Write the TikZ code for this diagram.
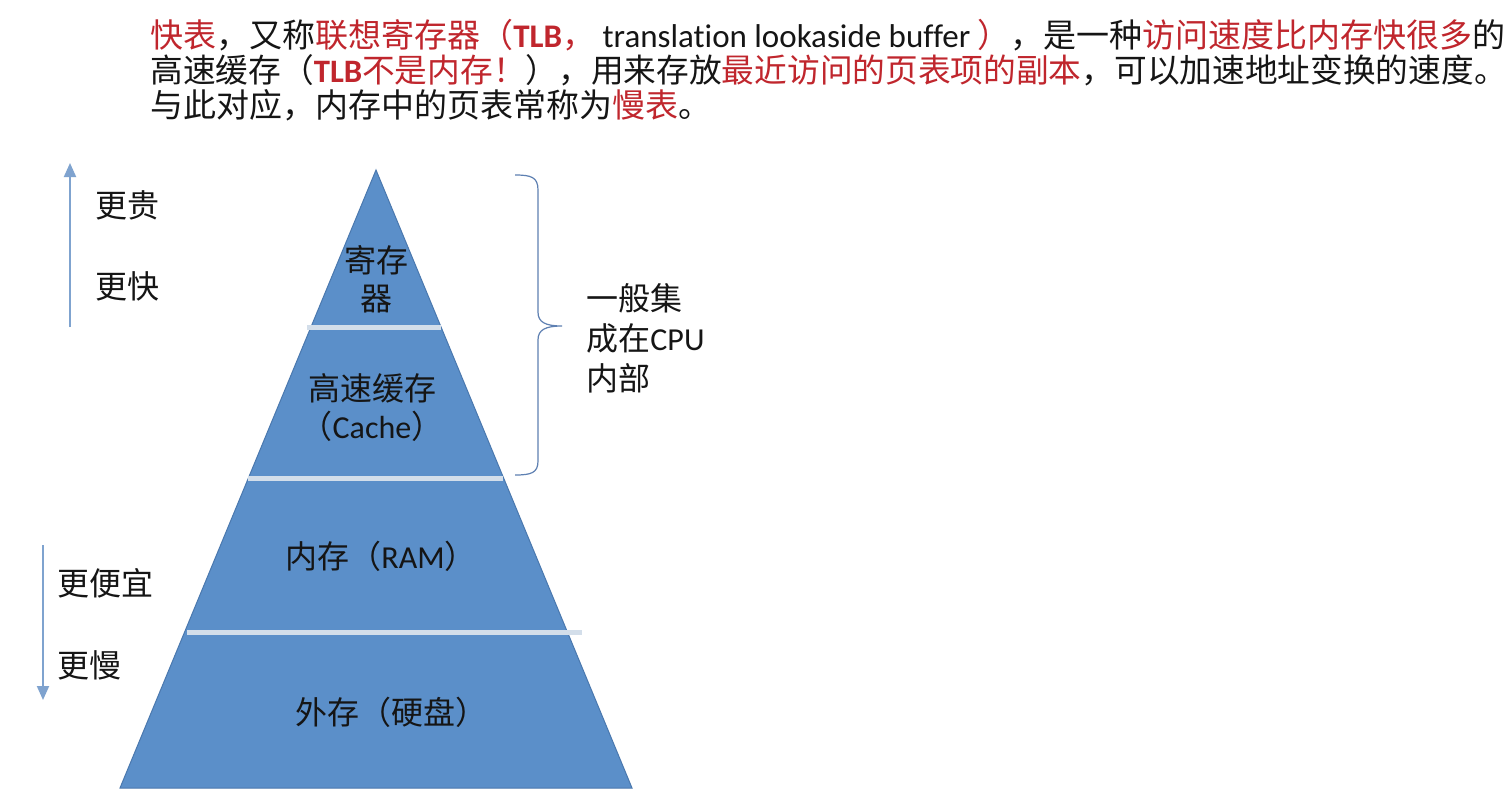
\documentclass[tikz,border=0pt]{standalone}
\usepackage{fontspec}
\setmainfont{Noto Sans CJK SC}
\newfontfamily\lat[Ligatures=NoCommon]{Carlito}
\usetikzlibrary{arrows.meta}
\definecolor{hred}{HTML}{C0262D}
\definecolor{txtblack}{HTML}{151515}
\definecolor{pyblue}{HTML}{5B8FC9}
\definecolor{pyedge}{HTML}{4A78AE}
\definecolor{sepline}{HTML}{D3DEEA}
\definecolor{arrowblue}{HTML}{7FA3CF}
\definecolor{bracecol}{HTML}{5E80B2}
\newcommand{\hlr}[1]{\textcolor{hred}{#1}}
\begin{document}
\begin{tikzpicture}[x=0.5pt,y=-0.5pt,
  toptext/.style={anchor=west,inner sep=0pt,text=txtblack,font=\fontsize{16.5}{20}\selectfont},
  pytext/.style={inner sep=0pt,text=txtblack,align=center,font=\fontsize{16}{19}\selectfont},
  sidetext/.style={anchor=west,inner sep=0pt,text=txtblack,font=\fontsize{16}{20}\selectfont},
  seprule/.style={draw=sepline,line width=2.5pt},
  dirarrow/.style={draw=arrowblue,line width=1pt,-{Triangle[width=6pt,length=7pt]}},
  bracestyle/.style={draw=bracecol,line width=0.6pt}]
\useasboundingbox (0,0) rectangle (1505,798);
\fill[white] (0,0) rectangle (1505,798);

% top text
\node[toptext] (l1) at (150,35) {\hlr{快表}，又称\hlr{联想寄存器（{\lat\bfseries TLB}，}{\lat{} translation lookaside buffer }\hlr{）}，是一种\hlr{访问速度比内存快很多}的};
\node[toptext,font=\fontsize{16.35}{20}\selectfont] (l2) at (150,70) {高速缓存（\hlr{{\lat\bfseries TLB}不是内存！}），用来存放\hlr{最近访问的页表项的副本}，可以加速地址变换的速度。};
\node[toptext] (l3) at (150,105) {与此对应，内存中的页表常称为\hlr{慢表}。};

% pyramid
\coordinate (apex) at (376,170);
\coordinate (br) at (632,788);
\coordinate (bl) at (120,788);
\filldraw[fill=pyblue,draw=pyedge,line width=0.5pt] (apex) -- (br) -- (bl) -- cycle;

\coordinate (s1a) at (307,327); \coordinate (s1b) at (441,327);
\coordinate (s2a) at (248,478); \coordinate (s2b) at (503,478);
\coordinate (s3a) at (187,632); \coordinate (s3b) at (582,632);
\draw[seprule] (s1a) -- (s1b);
\draw[seprule] (s2a) -- (s2b);
\draw[seprule] (s3a) -- (s3b);

\node[pytext] (reg) at (376,279) {寄存\\器};
\node[pytext] (cache) at (372,408) {高速缓存\\（{\lat Cache}）};
\node[pytext,anchor=west] (ram) at (285,556) {内存（{\lat RAM}）};
\node[pytext,anchor=west] (disk) at (295,712) {外存（硬盘）};

% side arrows
\coordinate (upS) at (70,327);
\coordinate (upE) at (70,163);
\draw[dirarrow] (upS) -- (upE);
\node[sidetext] (gui) at (95,205) {更贵};
\node[sidetext] (kuai) at (95,286) {更快};

\coordinate (dnS) at (43,545);
\coordinate (dnE) at (43,700);
\draw[dirarrow] (dnS) -- (dnE);
\node[sidetext] (pian) at (57,583) {更便宜};
\node[sidetext] (man) at (57,665) {更慢};

% brace
\coordinate (bt) at (515,175);
\coordinate (btip) at (562,326);
\coordinate (bb) at (515,475);
\draw[bracestyle] (bt) .. controls (531,175) and (538,177) .. (538,190) -- (538,312)
  .. controls (538,322) and (545,326) .. (btip)
  .. controls (545,326) and (538,330) .. (538,340) -- (538,461)
  .. controls (538,473) and (531,475) .. (bb);
\node[sidetext,align=left,font=\fontsize{16}{20}\selectfont] (cpu) at (586,338) {一般集\\成在{\lat CPU}\\内部};
\end{tikzpicture}
\end{document}
